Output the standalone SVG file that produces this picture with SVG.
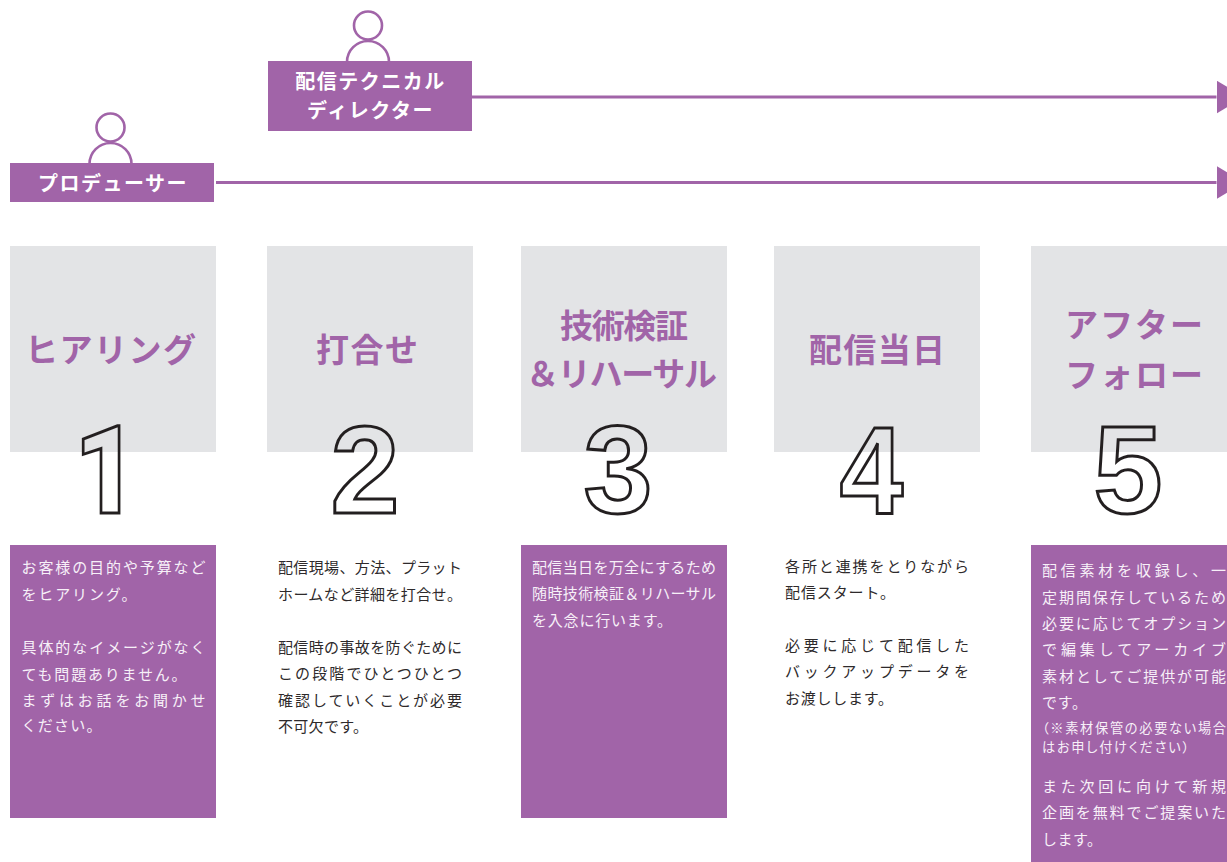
<svg xmlns="http://www.w3.org/2000/svg" width="1227" height="862" viewBox="0 0 1227 862">
<style>
text{font-family:"Noto Sans CJK JP","Noto Sans",sans-serif}
.p{fill:#a164a8}.g{fill:#e3e4e6}
.pers{fill:none;stroke:#a164a8;stroke-width:2.6}
.role{fill:#fff;font-size:20px;font-weight:700;text-anchor:middle;letter-spacing:1.5px}
.title{fill:#a164a8;font-size:33px;font-weight:700}
text.num{font-family:"Liberation Sans",sans-serif;font-size:124px;font-weight:700;fill:none;stroke:#231f20;stroke-width:3;text-anchor:middle}
text.one{font-family:Roboto,"Liberation Sans",sans-serif;font-size:122px;font-weight:900}
.w{fill:#f7f0f8;font-size:15px}.k{fill:#2e2a2b;font-size:15px}.s{font-size:13.2px;font-feature-settings:"palt"}
.conn{stroke:#a164a8;stroke-width:3;fill:none;marker-end:url(#ah)}
</style>
<defs><marker id="ah" markerUnits="userSpaceOnUse" markerWidth="30" markerHeight="36" refX="0" refY="16.500" orient="auto"><path d="M0,0L28,16.500L0,33Z" fill="#a164a8"/></marker></defs>
<rect width="1227" height="862" fill="#fff"/>
<g id="connectors">
<line class="conn" x1="472" y1="97" x2="1216.500" y2="97"/>
<line class="conn" x1="216" y1="182.500" x2="1216.500" y2="182.500"/>
</g>
<g id="role-director">
<circle class="pers" cx="368" cy="25.500" r="14"/>
<path class="pers" d="M347,62A21,21 0 0 1 389,62"/>
<rect class="p" x="268" y="61" width="204" height="70"/>
<text class="role" x="370.500" y="88.500">配信テクニカル</text>
<text class="role" x="370.500" y="117.500">ディレクター</text>
</g>
<g id="role-producer">
<circle class="pers" cx="110.500" cy="127.500" r="14"/>
<path class="pers" d="M89.500,164A21,21 0 0 1 131.500,164"/>
<rect class="p" x="10" y="163" width="204" height="39"/>
<text class="role" x="113" y="190.500">プロデューサー</text>
</g>
<g id="step-1">
<rect class="g" x="10" y="246" width="206" height="206"/>
<text class="title" x="25" y="362" textLength="171">ヒアリング</text>
<text class="num one" transform="translate(106 513) scale(.9 1)">1</text>
<rect class="p" x="10" y="545" width="206" height="273"/>
<g class="w">
<text x="21.500" y="573" textLength="184">お客様の目的や予算など</text>
<text x="21.500" y="600" textLength="115">をヒアリング。</text>
<text x="21.500" y="653" textLength="184">具体的なイメージがなく</text>
<text x="21.500" y="680" textLength="165">ても問題ありません。</text>
<text x="21.500" y="706" textLength="184">まずはお話をお聞かせ</text>
<text x="21.500" y="731" textLength="80">ください。</text>
</g>
</g>
<g id="step-2">
<rect class="g" x="267" y="246" width="206" height="206"/>
<text class="title" x="316" y="362" textLength="102">打合せ</text>
<text class="num" x="365" y="513">2</text>
<g class="k">
<text x="278" y="573" textLength="184">配信現場、方法、プラット</text>
<text x="278" y="600" textLength="184">ホームなど詳細を打合せ。</text>
<text x="278" y="652.500" textLength="184">配信時の事故を防ぐために</text>
<text x="278" y="679" textLength="184">この段階でひとつひとつ</text>
<text x="278" y="705.500" textLength="184">確認していくことが必要</text>
<text x="278" y="732" textLength="90">不可欠です。</text>
</g>
</g>
<g id="step-3">
<rect class="g" x="521" y="246" width="206" height="206"/>
<text class="title" x="560" y="338" textLength="128">技術検証</text>
<text class="title" x="526" y="386" textLength="191">＆リハーサル</text>
<text class="num" x="618" y="513">3</text>
<rect class="p" x="521" y="545" width="206" height="273"/>
<g class="w">
<text x="532" y="573" textLength="184">配信当日を万全にするため</text>
<text x="532" y="599" textLength="184">随時技術検証＆リハーサル</text>
<text x="532" y="626" textLength="140">を入念に行います。</text>
</g>
</g>
<g id="step-4">
<rect class="g" x="774" y="246" width="206" height="206"/>
<text class="title" x="809" y="362" textLength="136">配信当日</text>
<text class="num" transform="translate(871.500 513) scale(.92 1)">4</text>
<g class="k">
<text x="785" y="572" textLength="184">各所と連携をとりながら</text>
<text x="785" y="598" textLength="110">配信スタート。</text>
<text x="785" y="651" textLength="184">必要に応じて配信した</text>
<text x="785" y="677" textLength="184">バックアップデータを</text>
<text x="785" y="704" textLength="108">お渡しします。</text>
</g>
</g>
<g id="step-5">
<rect class="g" x="1031" y="246" width="196" height="206"/>
<text class="title" x="1065" y="337" textLength="138">アフター</text>
<text class="title" x="1065" y="387" textLength="138">フォロー</text>
<text class="num" x="1128" y="513">5</text>
<rect class="p" x="1031" y="545" width="196" height="317"/>
<g class="w">
<text x="1042" y="576" textLength="184">配信素材を収録し、一</text>
<text x="1042" y="603" textLength="184">定期間保存しているため</text>
<text x="1042" y="629" textLength="184">必要に応じてオプション</text>
<text x="1042" y="655" textLength="184">で編集してアーカイブ</text>
<text x="1042" y="682" textLength="184">素材としてご提供が可能</text>
<text x="1042" y="708" textLength="45">です。</text>
<text class="s" x="1042" y="733" textLength="184">（※素材保管の必要ない場合</text>
<text class="s" x="1042" y="752" textLength="147">はお申し付けください）</text>
<text x="1042" y="792" textLength="184">また次回に向けて新規</text>
<text x="1042" y="818" textLength="184">企画を無料でご提案いた</text>
<text x="1042" y="845" textLength="60">します。</text>
</g>
</g>
</svg>
